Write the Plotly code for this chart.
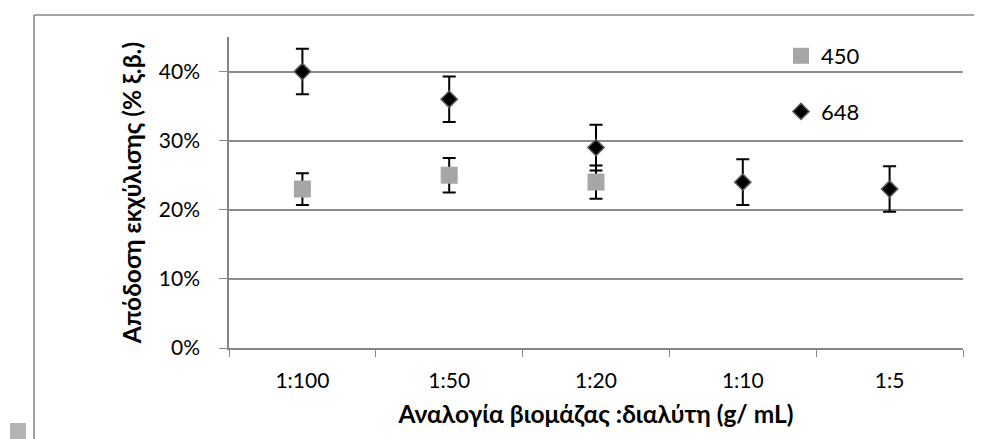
import plotly.graph_objects as go

categories = ["1:100", "1:50", "1:20", "1:10", "1:5"]
s450_cats = ["1:100", "1:50", "1:20"]
s450_vals = [0.23, 0.25, 0.24]
s450_err = [0.023, 0.025, 0.024]
s648_vals = [0.40, 0.36, 0.29, 0.24, 0.23]
s648_err = [0.033, 0.033, 0.033, 0.033, 0.033]
y_ticks = [0, 0.1, 0.2, 0.3, 0.4]

# page has an 8px body margin; figure is sized to fill the rest of the window
OFF = 8
W, H = 982 - OFF, 439 - OFF
ML = 229 - OFF
MT = 37 - OFF
MR = W - (963 - OFF)
MB = H - (348 - OFF)
FONT = "Lato"

fig = go.Figure()
fig.add_trace(go.Scatter(
    x=s450_cats, y=s450_vals, name="450", mode="markers",
    legendgroup="a",
    marker=dict(symbol="square", size=17, color="#A6A6A6"),
    error_y=dict(type="data", array=s450_err, color="black", thickness=2, width=6.5),
))
fig.add_trace(go.Scatter(
    x=categories, y=s648_vals, name="648", mode="markers",
    legendgroup="b",
    marker=dict(symbol="diamond", size=12.5, color="black", line=dict(color="#595959", width=1.5)),
    error_y=dict(type="data", array=s648_err, color="black", thickness=2, width=6.5),
))

pw = W - ML - MR
ph = H - MT - MB
def px_x(p):
    return (p - OFF - ML) / pw
def px_y(p):
    return (H - MB - (p - OFF)) / ph

shapes = [
    dict(type="line", xref="paper", yref="paper", x0=px_x(34), x1=px_x(990), y0=px_y(15), y1=px_y(15),
         line=dict(color="#868686", width=1.5)),
    dict(type="line", xref="paper", yref="paper", x0=px_x(34), x1=px_x(34), y0=px_y(15), y1=px_y(450),
         line=dict(color="#868686", width=1.5)),
    dict(type="rect", xref="paper", yref="paper", x0=px_x(10), x1=px_x(26), y0=px_y(423), y1=px_y(445),
         fillcolor="#B3B3B3", line=dict(width=0)),
]

fig.update_layout(
    width=W, height=H,
    margin=dict(l=ML, r=MR, t=MT, b=MB),
    paper_bgcolor="white", plot_bgcolor="white",
    font=dict(family=FONT, size=21, color="black"),
    showlegend=True,
    legend=dict(x=px_x(781), y=px_y(35), xanchor="left", yanchor="top",
                bgcolor="rgba(0,0,0,0)", font=dict(size=22),
                traceorder="grouped", tracegroupgap=24, itemsizing="trace"),
    shapes=shapes,
    xaxis=dict(
        type="category", categoryorder="array", categoryarray=categories,
        range=[-0.5, 4.5], tickson="boundaries", ticks="outside", ticklen=7,
        tickcolor="#868686", showline=True, linecolor="#868686", linewidth=1.5,
        showgrid=False, tickfont=dict(size=21), ticklabelstandoff=13,
        title=dict(text="<b>Αναλογία βιομάζας :διαλύτη (g/ mL)</b>", font=dict(size=24.5), standoff=15),
    ),
    yaxis=dict(
        range=[0, 0.45], tickvals=y_ticks, tickformat=".0%",
        ticks="outside", ticklen=8, tickcolor="#868686",
        showline=True, linecolor="#868686", linewidth=1.5,
        showgrid=True, gridcolor="#8C8C8C", gridwidth=1.5,
        zeroline=False, tickfont=dict(size=21), ticklabelstandoff=15,
        title=dict(text="<b>Απόδοση εκχύλισης (% ξ.β.)</b>", font=dict(size=24.5), standoff=10),
    ),
)

fig.write_html("out.html")
